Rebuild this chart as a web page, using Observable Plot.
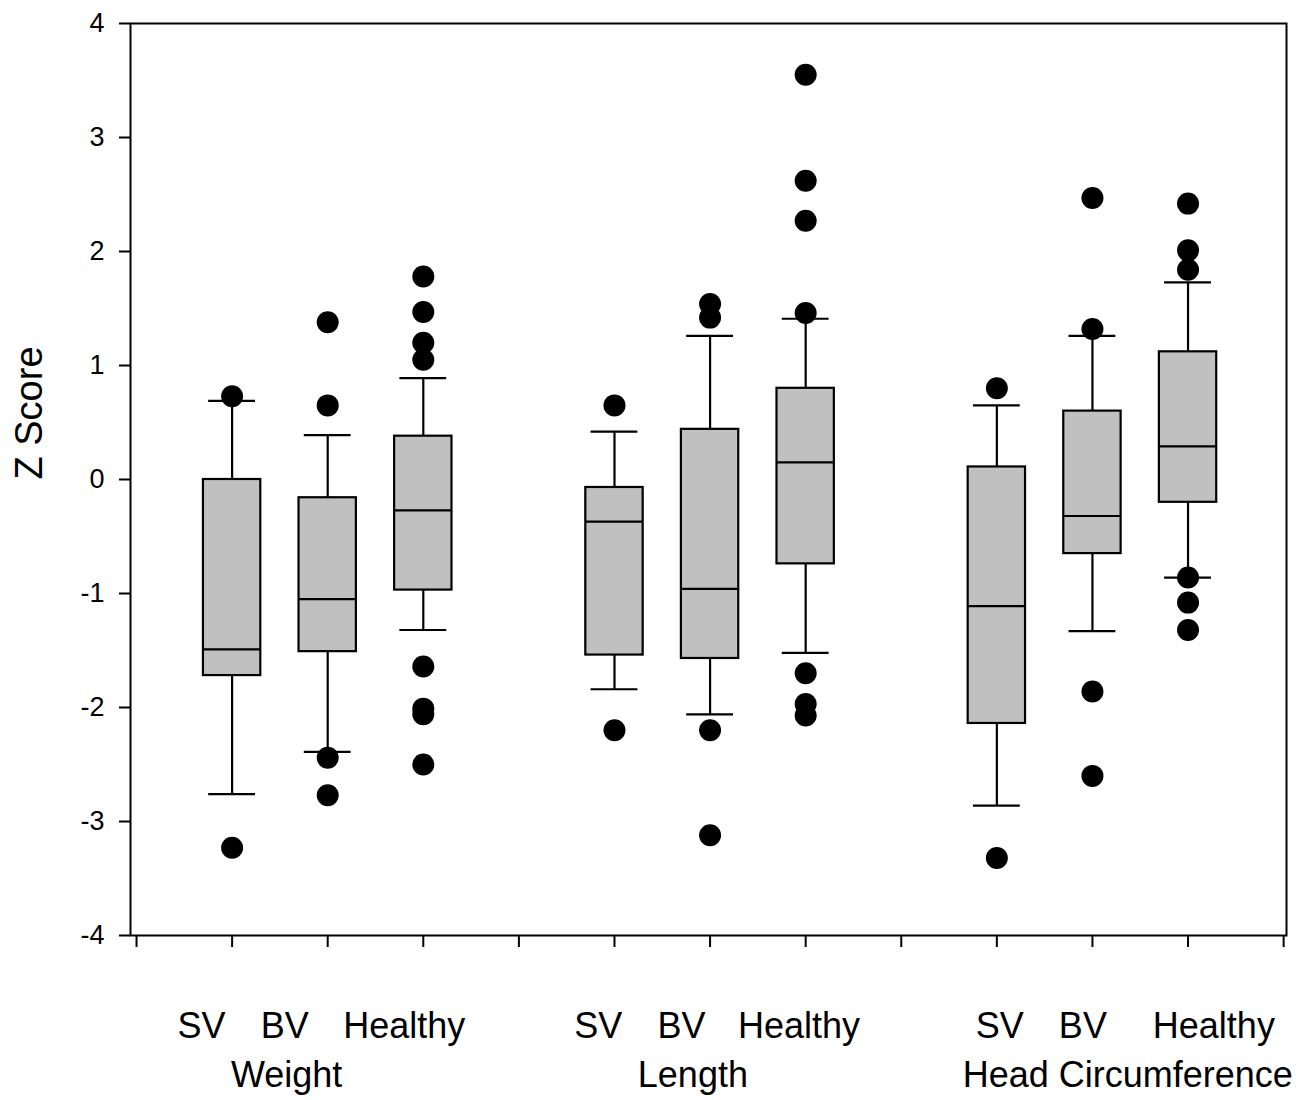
<!DOCTYPE html>
<html>
<head>
<meta charset="utf-8">
<script src="https://cdn.jsdelivr.net/npm/d3@7"></script>
<script src="https://cdn.jsdelivr.net/npm/@observablehq/plot@0.6"></script>
<style>
  html, body { margin: 0; padding: 0; background: #fff; }
</style>
</head>
<body>
<div id="chart"></div>
<script>
// ---- Data ----
const groups = ["Weight", "Length", "Head Circumference"];
const categories = ["SV", "BV", "Healthy"];
// order: Weight SV, BV, Healthy, Length SV, BV, Healthy, Head SV, BV, Healthy
const whiskerLow  = [-2.76, -2.39, -1.32, -1.84, -2.06, -1.52, -2.86, -1.33, -0.86];
const q1          = [-1.72, -1.51, -0.97, -1.54, -1.57, -0.74, -2.14, -0.65, -0.20];
const medians     = [-1.49, -1.05, -0.27, -0.37, -0.96,  0.15, -1.11, -0.32,  0.29];
const q3          = [ 0.00, -0.16,  0.38, -0.07,  0.44,  0.80,  0.11,  0.60,  1.12];
const whiskerHigh = [ 0.69,  0.39,  0.89,  0.42,  1.26,  1.41,  0.65,  1.26,  1.73];
const outliers = [
  [0.73, -3.23],
  [1.38, 0.65, -2.44, -2.77],
  [1.78, 1.47, 1.20, 1.05, -1.64, -2.01, -2.06, -2.50],
  [0.65, -2.20],
  [1.54, 1.42, -2.20, -3.12],
  [3.55, 2.62, 2.27, 1.46, -1.70, -1.97, -2.07],
  [0.80, -3.32],
  [2.47, 1.32, -1.86, -2.60],
  [2.42, 2.01, 1.84, -0.86, -1.08, -1.32]
];
const yTicks = [-4, -3, -2, -1, 0, 1, 2, 3, 4];

// ---- Build tables ----
const boxes = [];
const points = [];
groups.forEach((g, gi) => {
  categories.forEach((c, ci) => {
    const i = gi * 3 + ci;
    const x = gi * 4 + 1 + ci;
    boxes.push({group: g, cat: c, x, lo: whiskerLow[i], q1: q1[i], med: medians[i], q3: q3[i], hi: whiskerHigh[i]});
    outliers[i].forEach(v => points.push({x, y: v}));
  });
});

// label placement (layout): small shifts of category labels relative to box positions
const catShift = [[-0.32, -0.45, -0.20], [-0.17, -0.30, -0.07], [0.03, -0.10, 0.27]];
const groupShift = [-0.43, -0.18, 0.37];
const catLabels = boxes.map((b, i) => ({x: b.x + catShift[Math.floor(i / 3)][i % 3], text: b.cat}));
const groupLabels = groups.map((g, gi) => ({x: gi * 4 + 2 + groupShift[gi], text: g}));

const bw = 0.30, cw = 0.245;

const chart = Plot.plot({
  width: 1316,
  height: 1100,
  marginLeft: 130,
  marginRight: 30,
  marginTop: 23,
  marginBottom: 165,
  style: {fontFamily: "'Liberation Sans', Arial, sans-serif", background: "#fff", color: "#000", overflow: "visible"},
  x: {type: "linear", domain: [-0.063, 12.03], axis: null},
  y: {domain: [-4, 4], axis: null},
  marks: [
    // whiskers
    Plot.ruleX(boxes, {x: "x", y1: "lo", y2: "q1", stroke: "#000", strokeWidth: 2.2}),
    Plot.ruleX(boxes, {x: "x", y1: "q3", y2: "hi", stroke: "#000", strokeWidth: 2.2}),
    // caps
    Plot.ruleY(boxes, {y: "lo", x1: d => d.x - cw, x2: d => d.x + cw, stroke: "#000", strokeWidth: 2.2}),
    Plot.ruleY(boxes, {y: "hi", x1: d => d.x - cw, x2: d => d.x + cw, stroke: "#000", strokeWidth: 2.2}),
    // boxes
    Plot.rect(boxes, {x1: d => d.x - bw, x2: d => d.x + bw, y1: "q1", y2: "q3", fill: "#c0c0c0", stroke: "#000", strokeWidth: 2.2}),
    // medians
    Plot.ruleY(boxes, {y: "med", x1: d => d.x - bw, x2: d => d.x + bw, stroke: "#000", strokeWidth: 2.2}),
    // outliers
    Plot.dot(points, {x: "x", y: "y", r: 11, fill: "#000", stroke: null}),
    // frame & axes
    Plot.frame({stroke: "#000", strokeWidth: 2}),
    Plot.axisY({ticks: yTicks, tickSize: 11, tickFormat: () => "", label: null, strokeWidth: 2}),
    Plot.text(yTicks, {y: d => d, text: d => String(d), frameAnchor: "left", dx: -26, textAnchor: "end", fontSize: 27, fill: "#000"}),
    Plot.axisX({ticks: d3.range(0, 13), tickSize: 12, tickFormat: () => "", label: null, strokeWidth: 2}),
    // axis title
    Plot.text(["Z Score"], {frameAnchor: "left", dx: -101, rotate: -90, fontSize: 38, fill: "#000"}),
    // category labels
    Plot.text(catLabels, {x: "x", text: "text", frameAnchor: "bottom", dy: 102, lineAnchor: "bottom", fontSize: 36, fill: "#000"}),
    Plot.text(groupLabels, {x: "x", text: "text", frameAnchor: "bottom", dy: 151, lineAnchor: "bottom", fontSize: 36, fill: "#000"})
  ]
});
document.getElementById("chart").appendChild(chart);
</script>
</body>
</html>
